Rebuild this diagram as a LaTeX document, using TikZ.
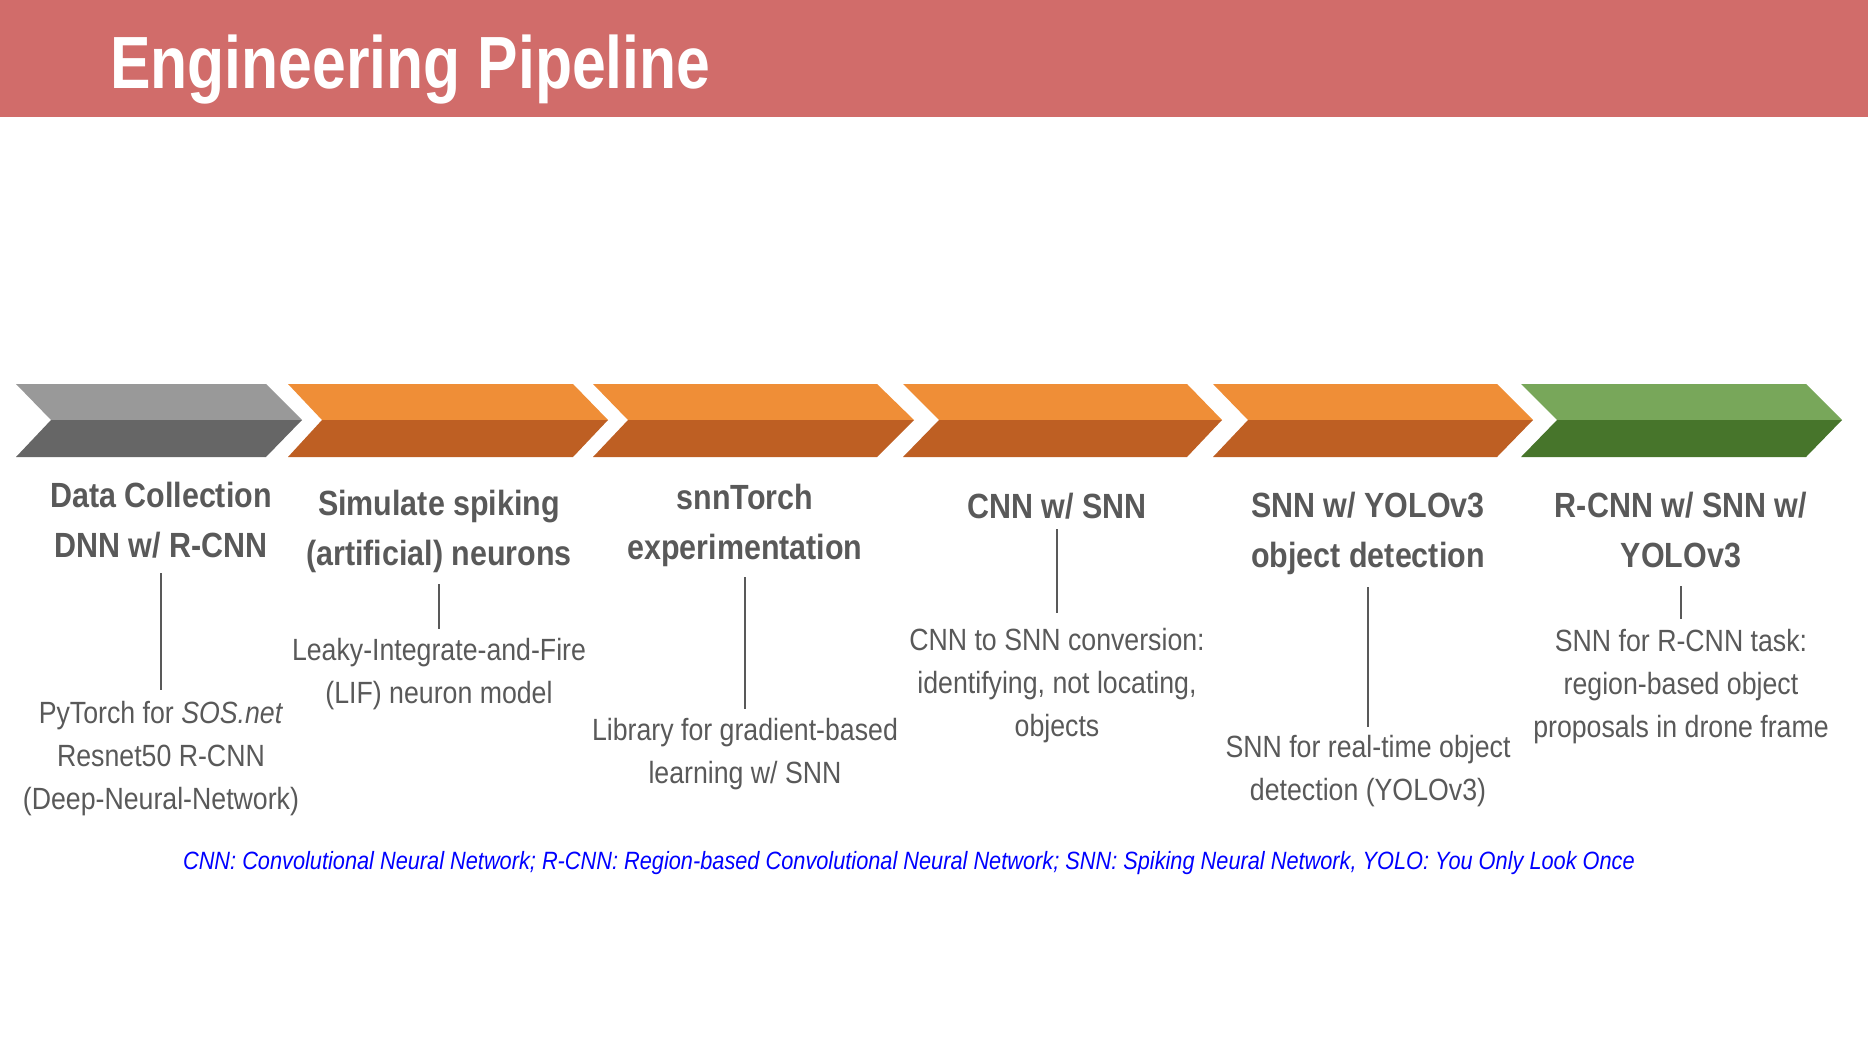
\documentclass[tikz,border=0pt]{standalone}
\usepackage{fontspec}
\setmainfont{Liberation Sans}[FakeStretch=0.87]
\newfontfamily\headfont{Liberation Sans}[FakeStretch=0.82]

\definecolor{bandred}{HTML}{D16C6A}
\definecolor{greyhi}{HTML}{999999}
\definecolor{greylo}{HTML}{666666}
\definecolor{orangehi}{HTML}{EF8E37}
\definecolor{orangelo}{HTML}{BE5F23}
\definecolor{greenhi}{HTML}{78A75A}
\definecolor{greenlo}{HTML}{47752B}
\definecolor{inkgrey}{HTML}{595959}
\definecolor{noteblue}{HTML}{0000FF}

\begin{document}
\begin{tikzpicture}[x=1pt,y=-1pt,
  stagetitle/.style={anchor=north,align=center,inner sep=0pt,text=inkgrey,
    font=\bfseries\fontsize{35}{50}\selectfont},
  stagenote/.style={anchor=north,align=center,inner sep=0pt,text=inkgrey,
    font=\fontsize{30.7}{43}\selectfont},
  link/.style={draw=inkgrey,line width=1.5pt,shorten <=11pt,shorten >=9pt}]
\useasboundingbox (0,0) rectangle (1868,1048);

% header band
\fill[bandred] (0,0) rectangle (1868,117);
\node[anchor=base west,inner sep=0pt,text=white,
  font=\headfont\bfseries\fontsize{74}{80}\selectfont] (head) at (110,89) {Engineering Pipeline};

% chevrons
\fill[greyhi] (16,384) -- (266,384) -- (302,420) -- (51,420) -- cycle;
\fill[greylo] (51,420) -- (302,420) -- (266,457) -- (16,457) -- cycle;

\fill[orangehi] (288,384) -- (573,384) -- (608,420) -- (322,420) -- cycle;
\fill[orangelo] (322,420) -- (608,420) -- (573,457) -- (288,457) -- cycle;

\fill[orangehi] (593,384) -- (877,384) -- (914,420) -- (628,420) -- cycle;
\fill[orangelo] (628,420) -- (914,420) -- (877,457) -- (593,457) -- cycle;

\fill[orangehi] (903,384) -- (1187,384) -- (1222,420) -- (939,420) -- cycle;
\fill[orangelo] (939,420) -- (1222,420) -- (1187,457) -- (903,457) -- cycle;

\fill[orangehi] (1213,384) -- (1497,384) -- (1533,420) -- (1248,420) -- cycle;
\fill[orangelo] (1248,420) -- (1533,420) -- (1497,457) -- (1213,457) -- cycle;

\fill[greenhi] (1521,384) -- (1806,384) -- (1842,420) -- (1557,420) -- cycle;
\fill[greenlo] (1557,420) -- (1842,420) -- (1806,457) -- (1521,457) -- cycle;

% stage titles
\node[stagetitle] (datatitle) at (161,482) {Data Collection\\DNN w/ R-CNN};
\node[stagetitle] (spiketitle) at (439,490) {Simulate spiking\\(artificial) neurons};
\node[stagetitle] (torchtitle) at (745,484) {snnTorch\\experimentation};
\node[stagetitle] (convtitle) at (1057,493) {CNN w/ SNN};
\node[stagetitle] (yolotitle) at (1368,492) {SNN w/ YOLOv3\\object detection};
\node[stagetitle] (rcnntitle) at (1681,492) {R-CNN w/ SNN w/\\YOLOv3};

% stage notes
\node[stagenote] (datanote) at (161,701) {PyTorch for \textit{SOS.net}\\Resnet50 R-CNN\\(Deep-Neural-Network)};
\node[stagenote] (spikenote) at (439,638) {Leaky-Integrate-and-Fire\\(LIF) neuron model};
\node[stagenote] (torchnote) at (745,718) {Library for gradient-based\\learning w/ SNN};
\node[stagenote] (convnote) at (1057,628) {CNN to SNN conversion:\\identifying, not locating,\\objects};
\node[stagenote] (yolonote) at (1368,735) {SNN for real-time object\\detection (YOLOv3)};
\node[stagenote] (rcnnnote) at (1681,629) {SNN for R-CNN task:\\region-based object\\proposals in drone frame};

% connectors
\draw[link,shorten <=15pt,shorten >=11pt] (datatitle) -- (datanote);
\draw[link] (spiketitle) -- (spikenote);
\draw[link,shorten <=10pt] (torchtitle) -- (torchnote);
\draw[link,shorten <=10pt,shorten >=15pt] (convtitle) -- (convnote);
\draw[link,shorten <=12pt,shorten >=8pt] (yolotitle) -- (yolonote);
\draw[link,shorten <=18pt,shorten >=10pt] (rcnntitle) -- (rcnnnote);

% abbreviations
\node[anchor=base,inner sep=0pt,text=noteblue,font=\itshape\fontsize{25}{30}\selectfont] (abbrev) at (909,869)
  {CNN: Convolutional Neural Network; R-CNN: Region-based Convolutional Neural Network; SNN: Spiking Neural Network, YOLO: You Only Look Once};
\end{tikzpicture}
\end{document}
